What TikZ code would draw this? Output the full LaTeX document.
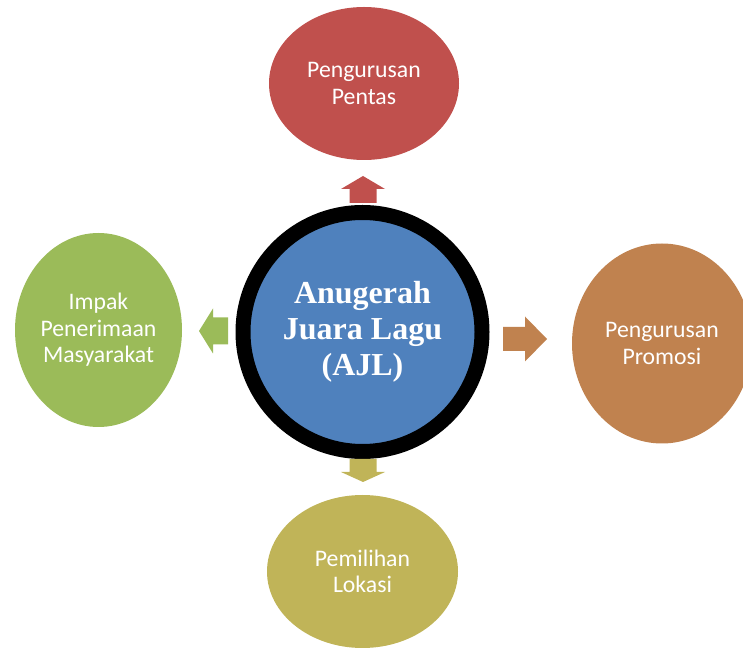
\documentclass[tikz,border=0pt]{standalone}
\usepackage{fontspec}
\newfontfamily\bubblefont{Carlito}
\newfontfamily\hubfont{Liberation Serif}
\usetikzlibrary{shapes.geometric}
\usetikzlibrary{positioning}

\definecolor{hubblue}{HTML}{4F81BD}
\definecolor{pentasred}{HTML}{C0504D}
\definecolor{promosiorange}{HTML}{C0824F}
\definecolor{lokasiolive}{HTML}{C0B458}
\definecolor{impakgreen}{HTML}{9BBB59}

\tikzset{
  bubble/.style={ellipse, inner sep=0pt, text=white, align=center,
    font=\bubblefont\fontsize{17.8}{19.9}\selectfont},
  pics/blockarr/.style args={#1/#2/#3/#4}{code={
    \fill (0,{-#4/2}) -- ({#1-#2},{-#4/2}) -- ({#1-#2},{-#3/2}) -- (#1,0)
      -- ({#1-#2},{#3/2}) -- ({#1-#2},{#4/2}) -- (0,{#4/2}) -- cycle;
  }}
}

\begin{document}
\begin{tikzpicture}[x=0.75pt,y=-0.75pt]
      \clip (0,0) rectangle (743,648);
      % centre
      \node[circle, fill=hubblue, draw=black, line width=11.25pt,
        minimum size=179.25pt, inner sep=0pt, text=white, align=center,
        font=\hubfont\bfseries\fontsize{24}{27}\selectfont] (hub) at (362.5,332)
        {Anugerah\\Juara Lagu\\(AJL)};
      % four parts
      \node[bubble, fill=pentasred, minimum width=142.5pt, minimum height=114.75pt]
        (pentas) at (364,83.5) {Pengurusan\\Pentas};
      \node[bubble, fill=promosiorange, minimum width=135pt, minimum height=150pt]
        (promosi) at (662,343.5) {Pengurusan\\Promosi};
      \node[bubble, fill=lokasiolive, minimum width=143.25pt, minimum height=114.75pt]
        (lokasi) at (362.5,571.5) {Pemilihan\\Lokasi};
      \node[bubble, fill=impakgreen, minimum width=125.25pt, minimum height=145.5pt]
        (impak) at (98.5,330) {Impak\\Penerimaan\\Masyarakat};
      % arrows
      \pic[rotate=90, fill=pentasred] (toPentas) at (363,203) {blockarr=27/13/44/27};
      \pic[rotate=0, fill=promosiorange] (toPromosi) at (503,339) {blockarr=44/22/45/24};
      \pic[rotate=-90, fill=lokasiolive] (toLokasi) at (363,459) {blockarr=23/10/44/27};
      \pic[rotate=180, fill=impakgreen] (toImpak) at (228,331) {blockarr=29/14/45/27};
    \end{tikzpicture}
\end{document}
